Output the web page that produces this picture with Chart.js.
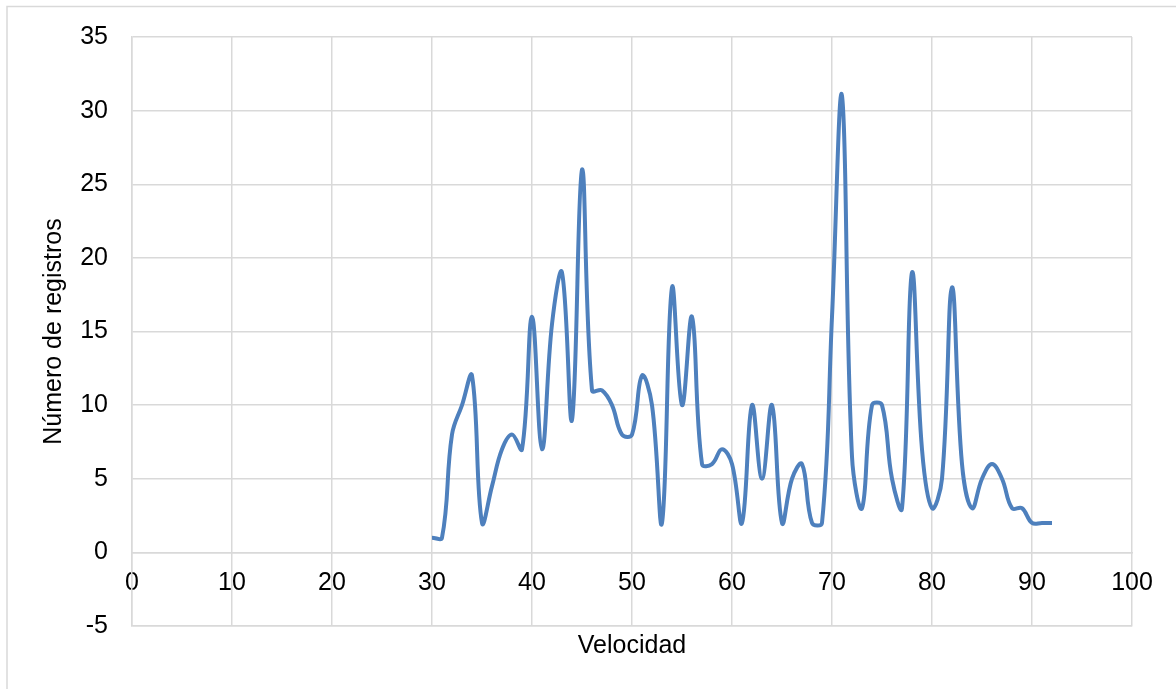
<!DOCTYPE html>
<html>
<head>
<meta charset="utf-8">
<script src="https://cdn.jsdelivr.net/npm/chart.js@4"></script>
<style>
  body { margin: 0; background: #fff; }
</style>
</head>
<body>
<canvas id="chart" width="1176" height="689"></canvas>
<script>
// speed values (x) and number of records (y)
const velocidad = [30, 31, 32, 33, 34, 35, 36, 37, 38, 39,
                   40, 41, 42, 43, 44, 45, 46, 47, 48, 49,
                   50, 51, 52, 53, 54, 55, 56, 57, 58, 59,
                   60, 61, 62, 63, 64, 65, 66, 67, 68, 69,
                   70, 71, 72, 73, 74, 75, 76, 77, 78, 79,
                   80, 81, 82, 83, 84, 85, 86, 87, 88, 89,
                   90, 91, 92];
const registros = [1, 1, 8, 10, 12, 2, 4.5, 7, 8, 7,
                   16, 7, 15.5, 19, 9, 26, 11, 11, 10, 8,
                   8, 12, 10, 2, 18, 10, 16, 6, 6, 7,
                   6, 2, 10, 5, 10, 2, 5, 6, 2, 2,
                   16, 31, 6.5, 3, 10, 10, 5, 3, 19, 7,
                   3, 5, 18, 6, 3, 5, 6, 5, 3, 3,
                   2, 2, 2];

const xMin = 0, xMax = 100, xStep = 10;
const yMin = -5, yMax = 35, yStep = 5;

const gridColor = '#d9d9d9';
const font = { family: 'Liberation Sans, Arial, sans-serif', size: 25 };

// light frame around the chart (only top and left are visible in the picture)
const framePlugin = {
    id: 'frame',
    beforeDraw(chart) {
        const ctx = chart.ctx;
        ctx.save();
        ctx.strokeStyle = gridColor;
        ctx.lineWidth = 1.5;
        ctx.beginPath();
        ctx.moveTo(7, 689);
        ctx.lineTo(7, 6.5);
        ctx.lineTo(1176, 6.5);
        ctx.stroke();
        ctx.restore();
    }
};

const points = velocidad.map((v, i) => ({ x: v, y: registros[i] }));

new Chart(document.getElementById('chart'), {
    type: 'line',
    data: {
        datasets: [{
            data: points,
            borderColor: '#4e80bd',
            borderWidth: 4,
            pointRadius: 0,
            tension: 0.4,
            fill: false
        }]
    },
    options: {
        responsive: false,
        animation: false,
        layout: { padding: { top: 37, right: 44, left: 0, bottom: 0 } },
        plugins: {
            legend: { display: false },
            tooltip: { enabled: false }
        },
        scales: {
            x: {
                type: 'linear',
                position: 'bottom',
                min: xMin, max: xMax,
                ticks: { stepSize: xStep, display: false },
                grid: { color: gridColor, lineWidth: 1.5, drawTicks: false },
                border: { color: gridColor, width: 1.5 },
                title: {
                    display: true, text: 'Velocidad', color: '#000',
                    font: font, padding: { top: 0, bottom: 28 }
                },
                afterFit(scale) { scale.height = 63; }
            },
            x2: {
                type: 'linear',
                position: { y: 0 },
                min: xMin, max: xMax,
                ticks: { stepSize: xStep, color: '#000', font: font, padding: 16, maxRotation: 0 },
                grid: { display: false, drawTicks: false },
                border: { color: gridColor, width: 1.5 }
            },
            y: {
                min: yMin, max: yMax,
                ticks: { stepSize: yStep, color: '#000', font: font, padding: 24 },
                grid: { color: gridColor, lineWidth: 1.5, drawTicks: false },
                border: { color: gridColor, width: 1.5 },
                title: {
                    display: true, text: 'Número de registros', color: '#000',
                    font: font, padding: { top: 39, bottom: 0 }
                },
                afterFit(scale) {
                    scale.width = 132;
                    scale.paddingTop = 0;
                    scale.paddingBottom = 0;
                }
            }
        }
    },
    plugins: [framePlugin]
});
</script>
</body>
</html>
